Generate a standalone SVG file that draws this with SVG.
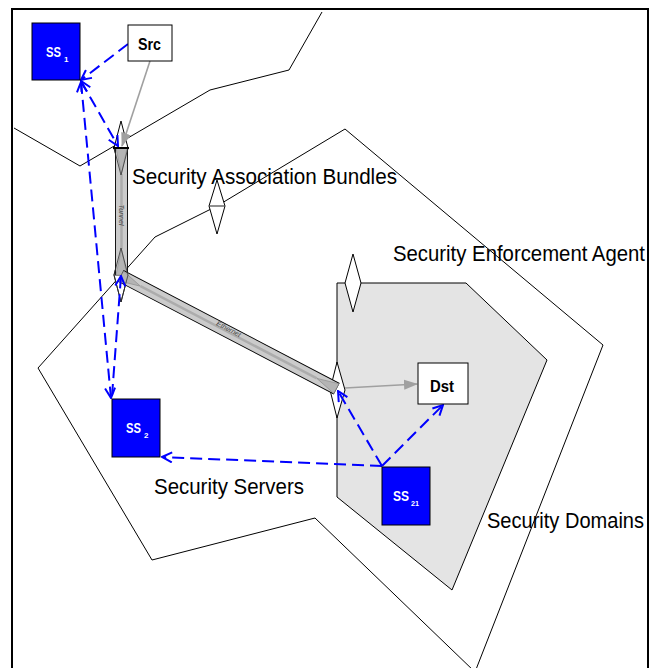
<svg xmlns="http://www.w3.org/2000/svg" width="652" height="668" viewBox="0 0 652 668">
  <style>
    .outline { fill: none; stroke: #000; stroke-width: 1; }
    .domain { fill: #e4e4e4; stroke: #000; stroke-width: 1; }
    .sea { fill: #fff; stroke: #000; stroke-width: 1; }
    .sea-edge { fill: none; stroke: #333; stroke-width: 0.8; }
    .tube { fill: #cbcbcb; stroke: #000; stroke-width: 0.9; }
    .tube-core { stroke: #acacac; stroke-width: 2.5; }
    .tube-tip { fill: #b4b4b4; stroke: #8a8a8a; stroke-width: 0.6; }
    .flow { fill: none; stroke: #a0a0a0; stroke-width: 1.6; }
    .ctrl { fill: none; stroke: #0000ff; stroke-width: 2; stroke-dasharray: 12 6; }
    .server { fill: #0000ff; stroke: #000; stroke-width: 1; }
    .host { fill: #fff; stroke: #000; stroke-width: 1; }
    .region-label { font-family: "Liberation Sans Narrow", "Liberation Sans", Arial, sans-serif; font-size: 22px; fill: #000; }
    .host-label { font-family: "Liberation Sans Narrow", "Liberation Sans", Arial, sans-serif; font-size: 17px; font-weight: bold; fill: #000; }
    .server-label { font-family: "Liberation Sans Narrow", "Liberation Sans", Arial, sans-serif; font-size: 14px; font-weight: bold; fill: #fff; }
    .server-sub { font-family: "Liberation Sans Narrow", "Liberation Sans", Arial, sans-serif; font-size: 8px; font-weight: bold; fill: #fff; }
    .tube-label { font-family: "Liberation Sans", Arial, sans-serif; font-size: 7px; font-style: italic; fill: #444; }
  </style>
  <defs>
    <marker id="open-arrow" viewBox="0 0 12 12" refX="11" refY="6" markerWidth="12" markerHeight="12" markerUnits="userSpaceOnUse" orient="auto-start-reverse">
      <path d="M1,1 L11,6 L1,11" fill="none" stroke="#0000ff" stroke-width="2"/>
    </marker>
    <marker id="solid-arrow" viewBox="0 0 14 12" refX="13" refY="6" markerWidth="14" markerHeight="12" markerUnits="userSpaceOnUse" orient="auto">
      <path d="M0,1 L14,6 L0,11 Z" fill="#a0a0a0"/>
    </marker>
  </defs>

  <rect width="652" height="668" fill="#fff"/>

  <!-- outer frame -->
  <rect x="12" y="9" width="636" height="690" fill="none" stroke="#000" stroke-width="2"/>

  <!-- security domain (shaded) -->
  <polygon class="domain" points="337,283 466,283 547,360 452,590 337,497"/>

  <!-- region outlines -->
  <polyline class="outline" points="14,128 80,166 210,90 289,70 322,12"/>
  <polygon class="outline" points="38,368 155,237 217,206 345,129 603,345 475,672 315,518 152,560"/>

  <!-- security enforcement agents (diamonds) -->
  <g id="sea-1"><polygon class="sea" points="121,121 128,148 121,175 114,148"/></g>
  <g id="sea-2"><polygon class="sea" points="121,248 128,275 121,302 114,275"/></g>
  <g id="sea-3"><polygon class="sea" points="217,180 225,206 217,234 209,206"/><line x1="209" y1="206" x2="225" y2="206" stroke="#444" stroke-width="1.2"/></g>
  <g id="sea-4"><polygon class="sea" points="353,254 361,283 353,312 345,283"/></g>
  <g id="sea-5"><polygon class="sea" points="337,362 345,390 337,418 330,390"/></g>

  <!-- association bundle tubes -->
  <g id="tunnel" transform="translate(121.5,148) rotate(90)">
    <rect class="tube" x="0" y="-6" width="127" height="12"/>
    <polygon class="tube-tip" points="0,-5.5 0,5.5 26,0"/>
    <polygon class="tube-tip" points="127,-5.5 127,5.5 101,0"/>
    <line class="tube-core" x1="26" y1="0" x2="101" y2="0"/>
    <text class="tube-label" x="67" y="2.5" text-anchor="middle">Tunnel</text>
  </g>
  <g id="ethernet" transform="translate(121,276) rotate(27.6)">
    <rect class="tube" x="0" y="-6" width="243" height="12"/>
    <polygon class="tube-tip" points="0,-5.5 0,5.5 22,0"/>
    <polygon class="tube-tip" points="243,-5.5 243,5.5 221,0"/>
    <line class="tube-core" x1="22" y1="0" x2="221" y2="0"/>
    <text class="tube-label" x="120" y="-0.5" text-anchor="middle">Ethernet</text>
  </g>

  <!-- diamond edges showing through the tubes -->
  <polyline class="sea-edge" points="114,148 121,175 128,148"/>
  <polyline class="sea-edge" points="114,275 121,248 128,275 121,302 114,275"/>
  <line x1="113" y1="148" x2="129" y2="148" stroke="#000" stroke-width="2"/>

  <!-- connectors -->
  <g id="connectors">
    <line class="flow" x1="150" y1="61" x2="122" y2="146" marker-end="url(#solid-arrow)"/>
    <line class="flow" x1="345" y1="388" x2="417" y2="384" marker-end="url(#solid-arrow)"/>

    <line class="ctrl" x1="128" y1="44" x2="81" y2="80" marker-end="url(#open-arrow)"/>
    <line class="ctrl" x1="81" y1="81" x2="118" y2="146" marker-start="url(#open-arrow)" marker-end="url(#open-arrow)"/>
    <line class="ctrl" x1="81" y1="82" x2="111" y2="398" marker-start="url(#open-arrow)" marker-end="url(#open-arrow)"/>
    <line class="ctrl" x1="112" y1="396" x2="121" y2="276" marker-end="url(#open-arrow)"/>
    <line class="ctrl" x1="382" y1="466" x2="162" y2="457" marker-end="url(#open-arrow)"/>
    <line class="ctrl" x1="382" y1="466" x2="338" y2="391" marker-end="url(#open-arrow)"/>
    <line class="ctrl" x1="382" y1="466" x2="443" y2="405" marker-end="url(#open-arrow)"/>
  </g>

  <!-- security servers and hosts -->
  <g id="ss1">
    <rect class="server" x="32" y="23" width="48" height="57"/>
    <text class="server-label" x="46" y="57" textLength="15" lengthAdjust="spacingAndGlyphs">SS</text>
    <text class="server-sub" x="64" y="62">1</text>
  </g>
  <g id="src">
    <rect class="host" x="128" y="25" width="44" height="36"/>
    <text class="host-label" x="138" y="50" textLength="23" lengthAdjust="spacingAndGlyphs">Src</text>
  </g>
  <g id="ss2">
    <rect class="server" x="112" y="399" width="48" height="58"/>
    <text class="server-label" x="126" y="433" textLength="15" lengthAdjust="spacingAndGlyphs">SS</text>
    <text class="server-sub" x="144" y="438">2</text>
  </g>
  <g id="dst">
    <rect class="host" x="418" y="363" width="50" height="41"/>
    <text class="host-label" x="430" y="392" textLength="24" lengthAdjust="spacingAndGlyphs">Dst</text>
  </g>
  <g id="ss21">
    <rect class="server" x="382" y="467" width="48" height="58"/>
    <text class="server-label" x="393" y="501" textLength="16" lengthAdjust="spacingAndGlyphs">SS</text>
    <text class="server-sub" x="411" y="506" textLength="8" lengthAdjust="spacingAndGlyphs">21</text>
  </g>

  <!-- region labels -->
  <text class="region-label" x="132" y="184" textLength="265" lengthAdjust="spacingAndGlyphs">Security Association Bundles</text>
  <text class="region-label" x="393" y="261" textLength="252" lengthAdjust="spacingAndGlyphs">Security Enforcement Agent</text>
  <text class="region-label" x="487" y="528" textLength="157" lengthAdjust="spacingAndGlyphs">Security Domains</text>
  <text class="region-label" x="154" y="494" textLength="150" lengthAdjust="spacingAndGlyphs">Security Servers</text>
</svg>
